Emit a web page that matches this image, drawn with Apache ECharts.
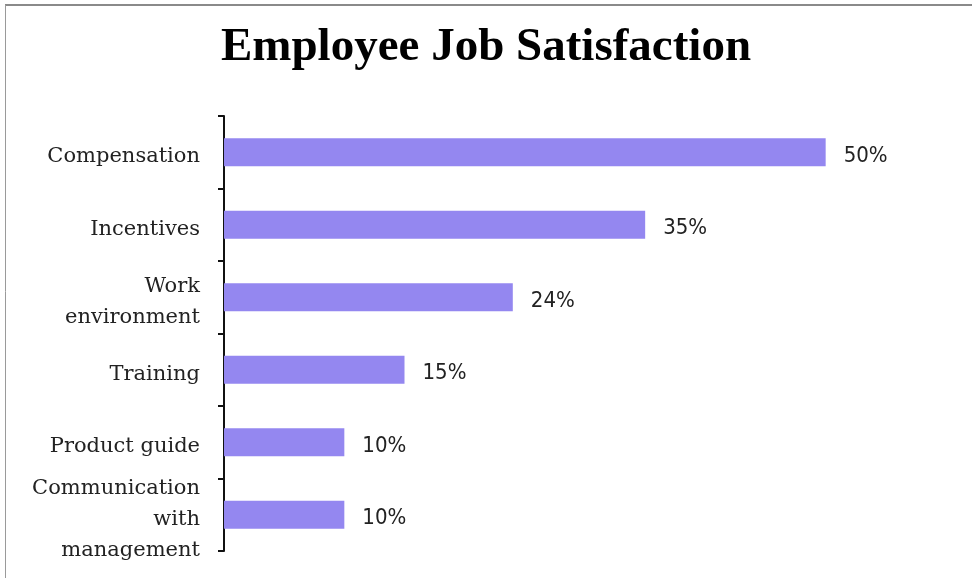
<!DOCTYPE html>
<html>
<head>
<meta charset="utf-8">
<script src="https://cdn.jsdelivr.net/npm/echarts@6/dist/echarts.min.js"></script>
<style>
html,body{margin:0;padding:0;background:#fff;}
#chart{width:972px;height:578px;}
</style>
</head>
<body>
<div id="chart"></div>
<script>
var categories = ["Compensation", "Incentives", "Work\nenvironment", "Training", "Product guide", "Communication\nwith\nmanagement"];
var values = [50, 35, 24, 15, 10, 10];
var titleText = "Employee Job Satisfaction";

var chart = echarts.init(document.getElementById('chart'));
chart.setOption({
  animation: false,
  backgroundColor: '#ffffff',
  title: {
    text: titleText,
    left: 'center',
    top: 19,
    textStyle: { fontFamily: 'Liberation Serif', fontWeight: 'bold', fontSize: 47, color: '#000' }
  },
  graphic: [
    { type: 'line', shape: { x1: 5, y1: 5, x2: 972, y2: 5 }, style: { stroke: '#8a8a8a', lineWidth: 2 } },
    { type: 'line', shape: { x1: 5.5, y1: 5, x2: 5.5, y2: 578 }, style: { stroke: '#9a9a9a', lineWidth: 1 } }
  ],
  grid: { left: 224, right: 26, top: 116, bottom: 27, containLabel: false },
  xAxis: {
    type: 'value', min: 0, max: 60, show: false
  },
  yAxis: {
    type: 'category',
    data: categories,
    inverse: true,
    axisLine: { show: true, lineStyle: { color: '#111', width: 2 } },
    axisTick: { show: true, length: 6, alignWithLabel: false, lineStyle: { color: '#111', width: 2 } },
    axisLabel: {
      margin: 24,
      fontFamily: 'DejaVu Serif',
      fontSize: 21,
      lineHeight: 31,
      color: '#222',
      align: 'right',
      formatter: function (v) {
        return '{s| }\n' + v.split('\n').map(function (s) {
          return '{a|' + s + '}';
        }).join('\n');
      },
      rich: {
        s: { fontSize: 1, lineHeight: 9 },
        a: { fontFamily: 'DejaVu Serif', fontSize: 21, lineHeight: 31, color: '#222' }
      }
    },
    splitLine: { show: false }
  },
  series: [{
    type: 'bar',
    data: values,
    barWidth: 28,
    itemStyle: { color: '#9487F0' },
    label: {
      show: true,
      position: 'right',
      distance: 18,
      offset: [0, 4],
      formatter: '{c}%',
      fontFamily: 'DejaVu Sans Condensed',
      fontSize: 22,
      color: '#222'
    }
  }]
});
</script>
</body>
</html>
